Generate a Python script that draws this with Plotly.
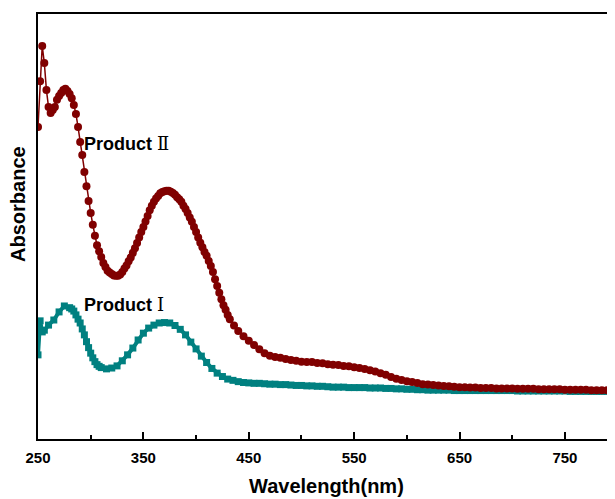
import plotly.graph_objects as go

# ---------------- data ----------------
red_wl = ([250, 252, 254, 256, 258, 260, 262, 264, 266, 268, 270, 272, 274, 276, 278, 280,
           282, 284, 286, 288, 290, 292, 294, 296, 298, 300, 302, 304, 306, 308, 310, 312]
          + list(range(314, 433, 2)) + [436, 440] + list(range(445, 801, 5)))
red_abs = [0.734, 0.842, 0.925, 0.885, 0.821, 0.781, 0.767, 0.774, 0.781, 0.798, 0.807, 0.814,
           0.821, 0.824, 0.819, 0.812, 0.802, 0.786, 0.765, 0.734, 0.699, 0.668, 0.628, 0.595,
           0.560, 0.532, 0.504, 0.478, 0.456, 0.442, 0.428, 0.414,
           # 314-432
           0.405, 0.396, 0.392, 0.388, 0.385, 0.384, 0.384, 0.387, 0.393, 0.401,
           0.408, 0.418, 0.427, 0.438, 0.449, 0.461, 0.474, 0.487, 0.499, 0.512,
           0.525, 0.538, 0.549, 0.558, 0.566, 0.572, 0.578, 0.581, 0.583, 0.584,
           0.584, 0.582, 0.579, 0.575, 0.569, 0.564, 0.558, 0.549, 0.541, 0.532,
           0.521, 0.511, 0.499, 0.487, 0.474, 0.462, 0.451, 0.440, 0.431, 0.419,
           0.407, 0.393, 0.376, 0.360, 0.344, 0.329, 0.315, 0.304, 0.292, 0.282,
           # 436, 440
           0.267, 0.254,
           # 445-500
           0.242, 0.231, 0.221, 0.211, 0.202, 0.196, 0.193, 0.191, 0.188, 0.186, 0.184, 0.182,
           # 505-600
           0.181, 0.181, 0.179, 0.178, 0.176, 0.175, 0.174, 0.172, 0.171, 0.169,
           0.167, 0.165, 0.162, 0.159, 0.155, 0.151, 0.146, 0.142, 0.139, 0.136,
           # 605-700
           0.134, 0.132, 0.129, 0.128, 0.127, 0.126, 0.125, 0.124, 0.123, 0.122,
           0.122, 0.121, 0.121, 0.120, 0.120, 0.120, 0.119, 0.119, 0.119, 0.119,
           # 705-800
           0.118, 0.118, 0.118, 0.118, 0.117, 0.117, 0.117, 0.117, 0.117, 0.116,
           0.116, 0.116, 0.116, 0.116, 0.115, 0.115, 0.115, 0.115, 0.115, 0.115]

teal_wl = ([250, 252, 254, 256, 260, 265, 270, 275, 280]
           + list(range(282, 311, 2)) + list(range(315, 801, 5)))
teal_abs = [0.198, 0.278, 0.252, 0.256, 0.268, 0.280, 0.299, 0.313, 0.309,
            # 282-310
            0.306, 0.301, 0.292, 0.282, 0.273, 0.259, 0.245, 0.229, 0.215, 0.202,
            0.191, 0.182, 0.175, 0.171, 0.168,
            # 315-500
            0.165, 0.167, 0.172, 0.184, 0.198, 0.214, 0.233, 0.249, 0.261, 0.268,
            0.273, 0.274, 0.273, 0.267, 0.258, 0.245, 0.228, 0.212, 0.195, 0.180,
            0.166, 0.155, 0.147, 0.141, 0.138, 0.135, 0.133, 0.132, 0.131, 0.131,
            0.130, 0.129, 0.129, 0.128, 0.128, 0.127, 0.126, 0.126,
            # 505-600
            0.125, 0.125, 0.124, 0.124, 0.123, 0.122, 0.122, 0.122, 0.121, 0.121,
            0.121, 0.121, 0.120, 0.120, 0.120, 0.119, 0.119, 0.118, 0.118, 0.117,
            # 605-700
            0.117, 0.116, 0.116, 0.115, 0.115, 0.115, 0.115, 0.115, 0.114, 0.114,
            0.114, 0.114, 0.114, 0.114, 0.114, 0.114, 0.114, 0.114, 0.114, 0.114,
            # 705-800
            0.113, 0.113, 0.113, 0.113, 0.113, 0.113, 0.113, 0.113, 0.113, 0.113,
            0.112, 0.112, 0.112, 0.112, 0.112, 0.112, 0.112, 0.112, 0.111, 0.111]

major_ticks = [250, 350, 450, 550, 650, 750]
minor_ticks = [300, 400, 500, 600, 700]
label_II = ("Product", "Ⅱ")
label_I = ("Product", "Ⅰ")

# ---------------- figure ----------------
RED = "#800000"
TEAL = "#008080"
SERIF = "DejaVu Serif"

fig = go.Figure()
fig.add_trace(go.Scatter(
    x=teal_wl, y=teal_abs, mode="lines+markers",
    line=dict(color=TEAL, width=4),
    marker=dict(symbol="square", size=7, color=TEAL),
    showlegend=False,
))
fig.add_trace(go.Scatter(
    x=red_wl, y=red_abs, mode="lines+markers",
    line=dict(color=RED, width=1.5),
    marker=dict(symbol="circle", size=8, color=RED),
    showlegend=False,
))


def lab(pair):
    return ("<b>" + pair[0] + "</b> <span style='font-family:" + SERIF
            + "'>" + pair[1] + "</span>")


# the page body adds an 8 px offset, so the figure is 8 px smaller on each side
fig.update_layout(
    width=607, height=491,
    margin=dict(l=30, r=0, t=6, b=60),
    paper_bgcolor="white", plot_bgcolor="white",
    font=dict(family="Liberation Sans, Arial", color="black"),
    xaxis=dict(
        range=[250, 797.5], showgrid=False, zeroline=False, automargin=False,
        showline=True, linecolor="black", linewidth=2, mirror=True,
        ticks="inside", tickvals=major_ticks, ticklen=7, tickwidth=2, tickcolor="black",
        tickfont=dict(size=15, weight="bold", family="Liberation Sans, Arial"),
        ticklabelstandoff=4,
        minor=dict(tickvals=minor_ticks, ticks="inside", ticklen=4, tickwidth=2, tickcolor="black"),
    ),
    yaxis=dict(
        range=[0, 1], showgrid=False, zeroline=False, automargin=False,
        showline=True, linecolor="black", linewidth=2, mirror=False,
        ticks="", showticklabels=False,
    ),
    annotations=[
        dict(x=292, y=0.695, xref="x", yref="y", xanchor="left", yanchor="middle",
             showarrow=False, text=lab(label_II), font=dict(size=18, color="black")),
        dict(x=292, y=0.316, xref="x", yref="y", xanchor="left", yanchor="middle",
             showarrow=False, text=lab(label_I), font=dict(size=18, color="black")),
        dict(x=0.5, y=-0.141, xref="paper", yref="paper", xanchor="center", yanchor="bottom",
             showarrow=False, text="<b>Wavelength(nm)</b>", font=dict(size=20, color="black")),
        dict(x=-0.0347, y=0.553, xref="paper", yref="paper", xanchor="center", yanchor="middle",
             showarrow=False, text="<b>Absorbance</b>", textangle=-90,
             font=dict(size=20, color="black")),
    ],
)

fig.write_html("out.html")
